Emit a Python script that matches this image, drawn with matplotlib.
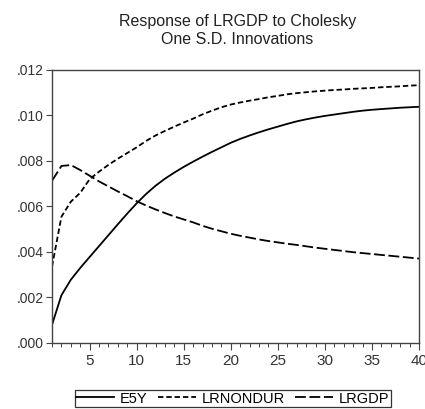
"""Impulse responses of LRGDP to Cholesky one S.D. innovations."""
import matplotlib
matplotlib.use("Agg")
import matplotlib.pyplot as plt
from matplotlib.ticker import FixedLocator, FuncFormatter, MultipleLocator

plt.rcParams["font.family"] = ["Liberation Sans", "DejaVu Sans"]

periods = list(range(1, 41))

# responses in units of 1e-3
e5y = [0.80, 2.10, 2.78, 3.30, 3.78, 4.26, 4.74, 5.22, 5.69, 6.14,
       6.55, 6.91, 7.22, 7.49, 7.74, 7.97, 8.19, 8.40, 8.60, 8.80,
       8.97, 9.12, 9.26, 9.39, 9.51, 9.63, 9.74, 9.83, 9.91, 9.98,
       10.04, 10.10, 10.16, 10.21, 10.25, 10.28, 10.31, 10.34, 10.36, 10.38]
lrnondur = [3.36, 5.55, 6.21, 6.60, 7.20, 7.53, 7.83, 8.10, 8.35, 8.60,
            8.88, 9.12, 9.32, 9.51, 9.69, 9.86, 10.05, 10.21, 10.36, 10.48,
            10.57, 10.65, 10.72, 10.80, 10.86, 10.93, 10.98, 11.02, 11.06, 11.09,
            11.12, 11.14, 11.17, 11.19, 11.21, 11.24, 11.26, 11.28, 11.31, 11.33]
lrgdp = [7.13, 7.78, 7.82, 7.60, 7.35, 7.10, 6.88, 6.66, 6.45, 6.23,
         6.04, 5.87, 5.71, 5.56, 5.43, 5.30, 5.15, 5.02, 4.91, 4.80,
         4.71, 4.63, 4.55, 4.48, 4.42, 4.36, 4.31, 4.25, 4.19, 4.14,
         4.09, 4.04, 3.99, 3.95, 3.91, 3.87, 3.83, 3.79, 3.75, 3.71]

series = [("E5Y", e5y, "-"),
          ("LRNONDUR", lrnondur, (0, (3.0, 1.6))),
          ("LRGDP", lrgdp, (0, (6.0, 2.0)))]

xticks = [5, 10, 15, 20, 25, 30, 35, 40]
yticks = [0.000, 0.002, 0.004, 0.006, 0.008, 0.010, 0.012]

fig = plt.figure(figsize=(4.25, 4.09), dpi=100)
ax = fig.add_axes([0.1224, 0.1614, 0.8636, 0.6676])

for name, vals, ls in series:
    ax.plot(periods, [v / 1000 for v in vals], color="black", linestyle=ls,
            linewidth=1.3, label=name)

ax.set_xlim(1, 40)
ax.set_ylim(0, 0.012)
ax.xaxis.set_major_locator(FixedLocator(xticks))
ax.xaxis.set_minor_locator(MultipleLocator(1))
ax.yaxis.set_major_locator(FixedLocator(yticks))
ax.yaxis.set_major_formatter(FuncFormatter(lambda v, p: f"{v:.3f}".lstrip("0")))

for s in ax.spines.values():
    s.set_color("#444444")
    s.set_linewidth(1.0)

ax.tick_params(axis="x", which="major", direction="out", length=5, width=0.8,
               labelsize=11, pad=3, colors="#444444", labelcolor="#333333")
ax.tick_params(axis="x", which="minor", direction="out", length=3, width=0.7,
               colors="#444444")
ax.tick_params(axis="y", direction="out", length=4, width=0.8, labelsize=10,
               pad=2, colors="#444444", labelcolor="#333333")

fig.text(0.558, 0.925, "Response of LRGDP to Cholesky\nOne S.D. Innovations",
         ha="center", va="center", fontsize=11.5, color="#222222", linespacing=1.3)

leg = fig.legend(loc="center", bbox_to_anchor=(0.548, 0.0255), ncol=3,
                 frameon=True, fancybox=False, fontsize=10.5, handlelength=2.6,
                 handletextpad=0.4, columnspacing=0.7, borderpad=0.1,
                 edgecolor="black")
leg.get_frame().set_linewidth(0.9)

fig.savefig("out.png", dpi=100)
